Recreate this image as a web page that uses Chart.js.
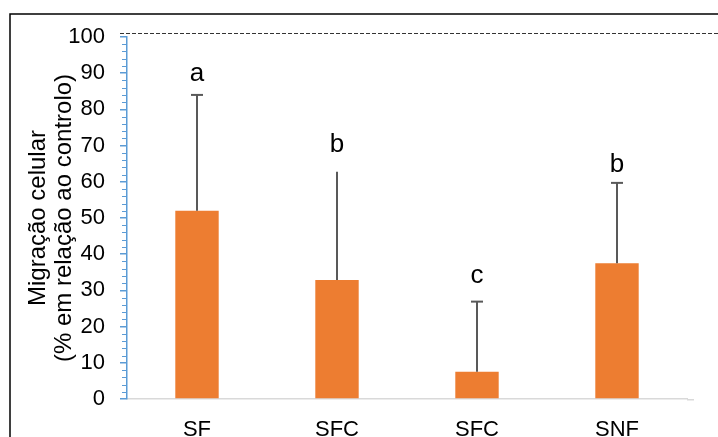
<!DOCTYPE html>
<html>
<head>
<meta charset="utf-8">
<script src="https://cdn.jsdelivr.net/npm/chart.js@4/dist/chart.umd.min.js"></script>
<style>
html,body{margin:0;padding:0;background:#fff;}
canvas{display:block;}
</style>
</head>
<body>
<canvas id="c" width="718" height="437"></canvas>
<script>
const categories = ['SF', 'SFC', 'SFC', 'SNF'];
const means = [52.0, 32.9, 7.5, 37.5];
const errors = [32.0, 29.9, 19.4, 22.2];
const groupLetters = ['a', 'b', 'c', 'b'];
const letterLevels = [87.8, 68.2, 32.1, 62.7];
const yTickValues = [0, 10, 20, 30, 40, 50, 60, 70, 80, 90, 100];
const yTitle = ['Migração celular', '(% em relação ao controlo)'];

const FONT = "'Liberation Sans', Arial, sans-serif";
const capWidths = [12, 0, 12, 12];

const extras = {
  id: 'extras',
  afterDraw(chart) {
    const ctx = chart.ctx;
    const area = chart.chartArea;
    const y = chart.scales.y;
    ctx.save();
    // outer frame
    ctx.strokeStyle = '#000';
    ctx.lineWidth = 1.5;
    ctx.strokeRect(10, 14, chart.width + 50, chart.height + 50);
    // dashed top line
    ctx.setLineDash([4, 2]);
    ctx.strokeStyle = '#333';
    ctx.lineWidth = 1;
    ctx.beginPath();
    ctx.moveTo(area.left - 7, area.top - 3.5);
    ctx.lineTo(chart.width, area.top - 3.5);
    ctx.stroke();
    ctx.setLineDash([]);
    // x axis extension
    ctx.strokeStyle = '#D9D9D9';
    ctx.lineWidth = 1.5;
    ctx.beginPath();
    ctx.moveTo(area.right, area.bottom + 0.75);
    ctx.lineTo(area.right + 7, area.bottom + 0.75);
    ctx.stroke();
    // minor ticks
    ctx.strokeStyle = '#5B9BD5';
    ctx.lineWidth = 1;
    for (let v = 0; v <= 100; v += 2) {
      if (v % 10 === 0) continue;
      const py = Math.round(y.getPixelForValue(v)) + 0.5;
      ctx.beginPath();
      ctx.moveTo(area.left - 5, py);
      ctx.lineTo(area.left, py);
      ctx.stroke();
    }
    // error bars
    const meta = chart.getDatasetMeta(0);
    ctx.strokeStyle = '#595959';
    ctx.lineWidth = 2;
    meta.data.forEach((bar, i) => {
      const x = Math.round(bar.x);
      const y0 = y.getPixelForValue(means[i]);
      const y1 = y.getPixelForValue(means[i] + errors[i]);
      ctx.beginPath();
      ctx.moveTo(x, y0);
      ctx.lineTo(x, y1);
      ctx.stroke();
      if (capWidths[i] > 0) {
        ctx.beginPath();
        ctx.moveTo(x - capWidths[i] / 2, y1);
        ctx.lineTo(x + capWidths[i] / 2, y1);
        ctx.stroke();
      }
      // letters
      ctx.fillStyle = '#000';
      ctx.font = '26px ' + FONT;
      ctx.textAlign = 'center';
      ctx.textBaseline = 'alphabetic';
      ctx.fillText(groupLetters[i], x, y.getPixelForValue(letterLevels[i]));
    });
    ctx.restore();
  }
};

new Chart(document.getElementById('c'), {
  type: 'bar',
  data: {
    labels: categories,
    datasets: [{
      data: means,
      backgroundColor: '#ED7D31',
      borderWidth: 0,
      barPercentage: 0.31,
      categoryPercentage: 1.0
    }]
  },
  options: {
    responsive: false,
    animation: false,
    layout: { padding: { top: 37, right: 31, left: 0, bottom: 0 } },
    plugins: { legend: { display: false }, tooltip: { enabled: false } },
    scales: {
      x: {
        grid: { display: false },
        border: { display: true, color: '#D9D9D9', width: 1.5 },
        ticks: { color: '#000', font: { family: FONT, size: 22 }, padding: 10, maxRotation: 0 },
        afterFit(scale) { scale.height = 38; }
      },
      y: {
        min: 0,
        max: 100,
        afterBuildTicks(scale) { scale.ticks = yTickValues.map(v => ({ value: v })); },
        ticks: { color: '#000', font: { family: FONT, size: 22 }, padding: 15 },
        grid: { display: true, drawOnChartArea: false, drawTicks: true, tickLength: 7, color: '#5B9BD5', lineWidth: 1.5 },
        border: { display: true, color: '#5B9BD5', width: 1.5 },
        title: {
          display: true,
          text: yTitle,
          color: '#000',
          font: { family: FONT, size: 24, lineHeight: 1.1 },
          padding: { top: 25, bottom: 0 }
        },
        afterFit(scale) { scale.width = 127; }
      }
    }
  },
  plugins: [extras]
});
</script>
</body>
</html>
